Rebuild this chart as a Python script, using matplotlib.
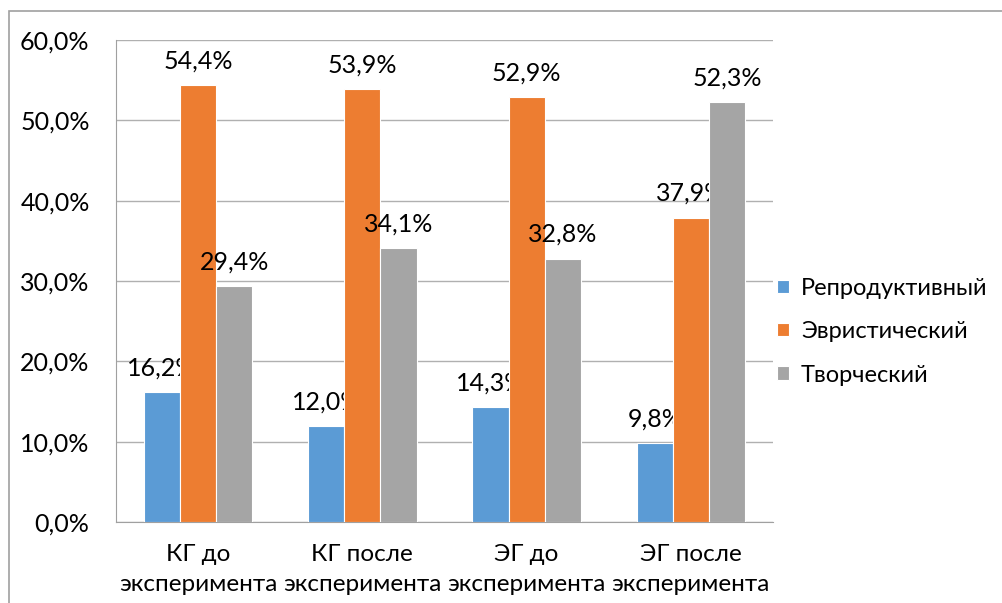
import numpy as np
import matplotlib.pyplot as plt
from matplotlib.patches import Rectangle

plt.rcParams['font.family'] = ['Lato', 'DejaVu Sans']

# данные диаграммы
categories = ['КГ до\nэксперимента', 'КГ после\nэксперимента',
              'ЭГ до\nэксперимента', 'ЭГ после\nэксперимента']
series_names = ['Репродуктивный', 'Эвристический', 'Творческий']
reprod = [16.2, 12.0, 14.3, 9.8]
evrist = [54.4, 53.9, 52.9, 37.9]
tvorch = [29.4, 34.1, 32.8, 52.3]
colors = ['#5B9BD5', '#ED7D31', '#A5A5A5']

fig = plt.figure(figsize=(10.03, 6.03), dpi=100)
ax = fig.add_axes([116/1003, 1-522/603, (773-116)/1003, (522-40)/603])

# рамка области диаграммы
fig.patches.append(Rectangle((9/1003, -0.1), 1.2, 1-11/603+0.1, transform=fig.transFigure,
                             fill=False, edgecolor='#A0A0A0', lw=1.2))

x = np.arange(len(categories))
w = 0.22
for i, (vals, name) in enumerate(zip([reprod, evrist, tvorch], series_names)):
    bars = ax.bar(x + (i-1)*w, vals, w, color=colors[i], label=name,
                  edgecolor='white', linewidth=0.8, zorder=3)
    for b, v in zip(bars, vals):
        ax.annotate(('%.1f%%' % v).replace('.', ','),
                    (b.get_x() + b.get_width()/2, v), xytext=(0, 9),
                    textcoords='offset points', ha='center', va='bottom', fontsize=18)

ax.set_xlim(-0.5, 3.5)
ax.set_ylim(0, 60)
ax.set_yticks(np.arange(0, 61, 10))
ax.set_yticklabels([('%.1f%%' % t).replace('.', ',') for t in range(0, 61, 10)], fontsize=18)
ax.set_xticks(x)
ax.set_xticklabels(categories, fontsize=17.5, linespacing=1.5)
ax.tick_params(length=0)
ax.tick_params(axis='x', pad=16)
ax.tick_params(axis='y', pad=19)
ax.grid(axis='y', color='#B0B0B0', lw=1, zorder=0)
for s in ['top', 'right']:
    ax.spines[s].set_visible(False)
for s in ['left', 'bottom']:
    ax.spines[s].set_color('#A0A0A0')

ax.legend(loc='center left', bbox_to_anchor=(0.985, 0.395), frameon=False, fontsize=17,
          handlelength=0.5, handleheight=0.5, handletextpad=0.5, labelspacing=0.95,
          borderaxespad=0.2)

fig.savefig('out.png', dpi=100)
